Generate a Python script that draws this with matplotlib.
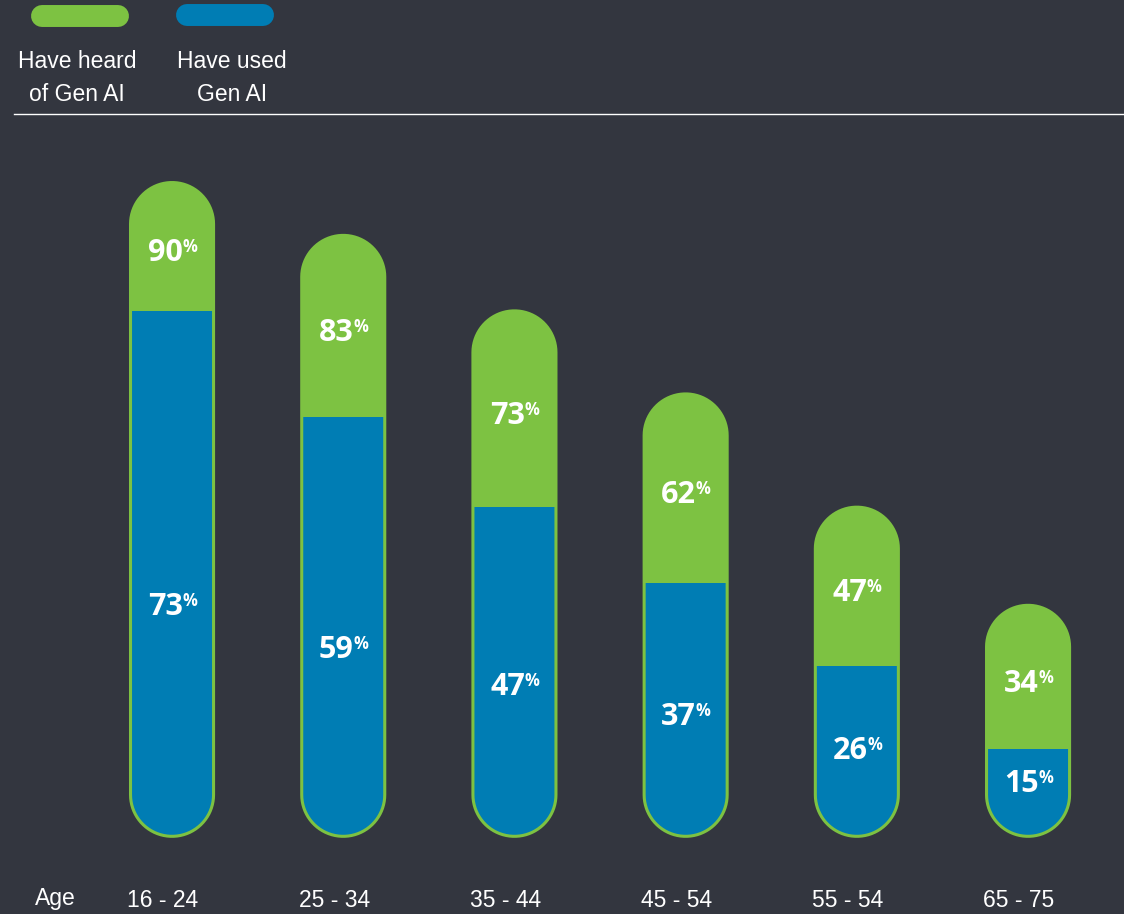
import numpy as np
import matplotlib
matplotlib.use("Agg")
import matplotlib.pyplot as plt
from matplotlib.path import Path
from matplotlib.patches import PathPatch, Rectangle
from matplotlib.lines import Line2D
from matplotlib.transforms import ScaledTranslation

age_groups = ["16 - 24", "25 - 34", "35 - 44", "45 - 54", "55 - 54", "65 - 75"]
heard = [90, 83, 73, 62, 47, 34]
used = [73, 59, 47, 37, 26, 15]

BG = "#33363f"
GREEN = "#7dc242"
BLUE = "#007db4"
BASE = 3.4          # where the rounded bottom of each pill sits
BAR_W = 0.485

fig = plt.figure(figsize=(11.24, 9.14), dpi=100, facecolor=BG)
ax = fig.add_axes([0.0769, 0.0569, 0.9139, 0.826])
ax.set_facecolor(BG)
ax.set_xlim(-0.5, len(age_groups) - 0.5)
ax.set_ylim(0, 100)
ax.axis("off")

# pixel size of one data unit, so the pill ends come out as true semicircles
p0 = ax.transData.transform((0, 0))
p1 = ax.transData.transform((1, 1))
px_x, px_y = p1 - p0
ry = (BAR_W / 2) * px_x / px_y


def capsule(xc, bottom, top):
    r = BAR_W / 2
    t = np.linspace(0, np.pi, 40)
    top_arc = np.column_stack([xc + r * np.cos(t), top - ry + ry * np.sin(t)])
    bot_arc = np.column_stack([xc - r * np.cos(t), bottom + ry - ry * np.sin(t)])
    verts = np.vstack([top_arc, bot_arc, top_arc[:1]])
    codes = [Path.MOVETO] + [Path.LINETO] * (len(verts) - 2) + [Path.CLOSEPOLY]
    return Path(verts, codes)


def value_label(x, y, val):
    # number nudged left so that number + small % sit centred on the bar
    shift = ScaledTranslation(-5 / 72, 0, fig.dpi_scale_trans)
    txt = ax.text(x, y, str(val), ha="center", va="center", color="white",
                  fontsize=22, fontweight="bold", family="Open Sans", zorder=5,
                  transform=ax.transData + shift)
    ax.annotate("%", xy=(0.99, 1.0), xycoords=txt, ha="left", va="top",
                color="white", fontsize=12, fontweight="bold", family="Open Sans", zorder=5)


for i, (h, u) in enumerate(zip(heard, used)):
    path = capsule(i, BASE, h)
    body = PathPatch(path, facecolor=GREEN, edgecolor="none", zorder=2)
    ax.add_patch(body)
    blue = Rectangle((i - BAR_W / 2, 0), BAR_W, u, facecolor=BLUE, edgecolor="none", zorder=3)
    ax.add_patch(blue)
    blue.set_clip_path(body)
    ax.add_patch(PathPatch(path, facecolor="none", edgecolor=GREEN, lw=2.2, zorder=4))

    value_label(i, (h + u) / 2 - 0.9, h)
    value_label(i, 0.405 * u + 4.2, u)

    ax.text(i, -5.1, age_groups[i], ha="center", va="center", color="white",
            fontsize=16.5, family="Liberation Sans", clip_on=False,
            transform=ax.transData + ScaledTranslation(-9 / 100, 0, fig.dpi_scale_trans))

fig.text(55 / 1124, 1 - 898 / 914, "Age", ha="center", va="center", color="white",
         fontsize=16.5, family="Liberation Sans")

# legend pills and labels
for x0, x1, y, col in [(42, 118, 16, GREEN), (187, 263, 15, BLUE)]:
    fig.add_artist(Line2D([x0 / 1124, x1 / 1124], [1 - y / 914, 1 - y / 914],
                          transform=fig.transFigure, color=col, lw=15.8,
                          solid_capstyle="round"))
for xc, label in [(77, "Have heard\nof Gen AI"), (232, "Have used\nGen AI")]:
    fig.text(xc / 1124, 1 - 78 / 914, label, ha="center", va="center", color="white",
             fontsize=16.5, family="Liberation Sans", linespacing=1.55)

fig.add_artist(Line2D([14 / 1124, 1], [1 - 114 / 914, 1 - 114 / 914],
                      transform=fig.transFigure, color="white", lw=1))

fig.savefig("out.png", dpi=100, facecolor=BG)
